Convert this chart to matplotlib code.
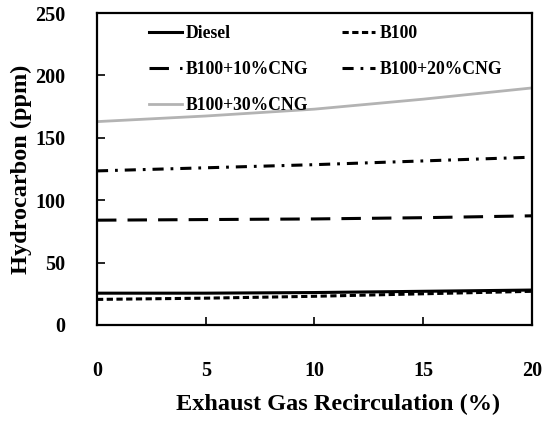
import matplotlib
matplotlib.use("Agg")
import matplotlib.pyplot as plt

plt.rcParams['font.family'] = ['Liberation Serif', 'DejaVu Serif']
plt.rcParams['font.weight'] = 'bold'
plt.rcParams['lines.scale_dashes'] = False

egr = [0, 5, 10, 15, 20]
diesel = [25.5, 25.5, 26, 27, 28]
b100 = [20.5, 21.5, 23, 25, 27]
cng10 = [84, 84.5, 85, 86, 87.5]
cng20 = [123.5, 126, 128.5, 131.5, 134.5]
cng30 = [163, 167.5, 173, 181, 190]

fig = plt.figure(figsize=(5.43, 4.22), dpi=100)
ax = fig.add_axes([0.1786, 0.2299, 0.8011, 0.7391])

h1, = ax.plot(egr, diesel, color='black', lw=2.2, label='Diesel')
h2, = ax.plot(egr, b100, color='black', lw=2.2, linestyle=(0, (4.5, 2.5)), label='B100')
h3, = ax.plot(egr, cng10, color='black', lw=2.2, linestyle=(0, (14, 8)), label='B100+10%CNG')
h4, = ax.plot(egr, cng20, color='black', lw=2.2, linestyle=(0, (8, 5, 2, 5)), label='B100+20%CNG')
h5, = ax.plot(egr, cng30, color='#b3b3b3', lw=2.0, label='B100+30%CNG')

ax.set_xlim(0, 20)
ax.set_ylim(0, 250)
ax.set_xticks([0, 5, 10, 15, 20])
ax.set_yticks([0, 50, 100, 150, 200, 250])
ax.tick_params(axis='y', direction='in', length=6, width=1.2, pad=23, labelsize=14.5)
ax.tick_params(axis='x', direction='in', length=6, width=1.2, pad=26, labelsize=14.5)
for lab in ax.get_xticklabels() + ax.get_yticklabels():
    lab.set_fontweight('bold')
for s in ax.spines.values():
    s.set_linewidth(1.6)

ax.set_xlabel('Exhaust Gas Recirculation (%)', fontsize=17.5, fontweight='bold')
ax.xaxis.set_label_coords(0.555, -0.222)
ax.xaxis.label.set_va('top')
ax.set_ylabel('Hydrocarbon (ppm)', fontsize=17.5, fontweight='bold', labelpad=2)

handles = [h1, h3, h5, h2, h4]
ax.legend(handles=handles, labels=[h.get_label() for h in handles],
          loc='upper left', bbox_to_anchor=(0.12, 0.962), ncol=2, frameon=False,
          prop={'weight': 'bold', 'size': 12.7}, handlelength=1.85, handletextpad=0.25,
          columnspacing=1.9, labelspacing=1.07, borderpad=0, borderaxespad=0)

fig.savefig('out.png', dpi=100)
